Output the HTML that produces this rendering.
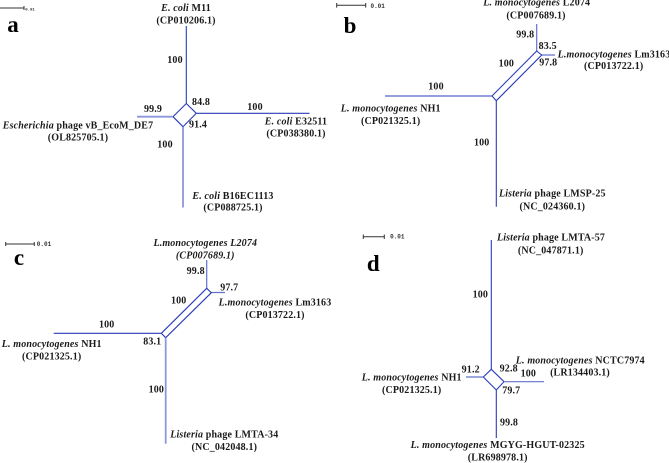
<!DOCTYPE html>
<html><head><meta charset="utf-8"><style>
html,body{margin:0;padding:0;background:#fff;width:669px;height:463px;overflow:hidden}
svg{display:block}
text{font-family:"Liberation Serif",serif;font-weight:bold;font-size:10px;letter-spacing:.15px;fill:#1a1a1a;text-anchor:middle}
.i{font-style:italic}
.p{font-size:23px;fill:#000;letter-spacing:0}
.s{font-size:6px;font-family:"Liberation Mono",monospace;fill:#333;letter-spacing:0}
.l{stroke:#2a3cb8;stroke-width:1.1;fill:none}
.m{stroke:#6272cc;stroke-width:1.2;fill:none}
.t{stroke:#8b98dc;stroke-width:1.8;fill:none}
.b{stroke:#333;stroke-width:1;fill:none}
</style></head><body>
<svg width="669" height="463" viewBox="0 0 669 463" xmlns="http://www.w3.org/2000/svg">
<!-- a -->
<path class="b" d="M0 8H24M24 6V10"/><text class="s" x="30" y="10.5" style="font-size:4px">0.01</text>
<text class="p" x="13" y="32">a</text>
<path class="l" d="M186.3 26V103.5M196.3 113.3H309.5M186.3 103.5L196.3 113.3L183 126.7L173 116.7Z"/>
<path class="t" d="M137 116.7H173M183 126.7V207.5"/>
<text x="186" y="11"><tspan class="i">E. coli</tspan> M11</text><text x="186" y="23.5">(CP010206.1)</text>
<text x="175" y="63">100</text><text x="201" y="105">84.8</text><text x="153" y="112">99.9</text><text x="255" y="110">100</text>
<text x="296" y="124.7"><tspan class="i">E. coli</tspan>  E32511</text><text x="296" y="136.7">(CP038380.1)</text>
<text x="78" y="128.7"><tspan class="i">Escherichia</tspan> phage vB_EcoM_DE7</text><text x="78" y="140.7">(OL825705.1)</text>
<text x="198" y="127.3">91.4</text><text x="165" y="147.7">100</text>
<text x="233" y="199"><tspan class="i">E. coli</tspan> B16EC1113</text><text x="233" y="210.7">(CP088725.1)</text>
<!-- b -->
<path class="b" d="M336.7 5.3H365.7M336.7 3V7.6M365.7 3V7.6"/><text class="s" x="377.7" y="8">0.01</text>
<text class="p" x="350" y="33">b</text>
<path class="m" d="M536.7 24V51M541.7 55H555"/>
<path class="l" d="M385 96H492M496.3 100.7V206.7M536.7 51L541.7 55L496.3 100.7L492 96Z"/>
<text x="536.7" y="5.7"><tspan class="i">L. monocytogenes</tspan> L2074</text><text x="536" y="18.7">(CP007689.1)</text>
<text x="525.3" y="37.3">99.8</text><text x="547.7" y="49">83.5</text><text x="548.3" y="65.3">97.8</text>
<text x="614" y="57.3"><tspan class="i">L.monocytogenes</tspan> Lm3163</text><text x="613.7" y="69">(CP013722.1)</text>
<text x="506.3" y="66.3">100</text><text x="436" y="89.3">100</text>
<text x="390.7" y="111.7"><tspan class="i">L. monocytogenes</tspan> NH1</text><text x="390.7" y="124">(CP021325.1)</text>
<text x="481.7" y="145.7">100</text>
<text x="552.3" y="196.7"><tspan class="i">Listeria</tspan> phage LMSP-25</text><text x="552.3" y="209.3">(NC_024360.1)</text>
<!-- c -->
<path class="b" d="M5.7 244H34.3M5.7 242V246M34.3 242V246"/><text class="s" x="44" y="246">0.01</text>
<text class="p" x="19" y="265">c</text>
<path class="m" d="M206.7 260V288.3M211.3 292.5H225"/>
<path class="l" d="M53.7 333.3H161.3M206.7 288.3L211.3 292.7L165.7 337.7L161.3 333.3Z"/>
<path class="t" d="M165.7 337.7V443.7"/>
<text x="205.3" y="246"><tspan class="i">L.monocytogenes L2074</tspan></text><text class="i" x="205.3" y="258.3">(CP007689.1)</text>
<text x="195.7" y="274">99.8</text><text x="229.3" y="290.7">97.7</text><text x="178.7" y="303.3">100</text>
<text x="275" y="305.7"><tspan class="i">L.monocytogenes</tspan> Lm3163</text><text x="275" y="318">(CP013722.1)</text>
<text x="106.7" y="327.3">100</text><text x="152.3" y="344.7">83.1</text>
<text x="51.7" y="347"><tspan class="i">L. monocytogenes</tspan> NH1</text><text x="51.7" y="359.3">(CP021325.1)</text>
<text x="156.3" y="392.7">100</text>
<text x="224.3" y="437.3"><tspan class="i">Listeria</tspan> phage LMTA-34</text><text x="224.3" y="450">(NC_042048.1)</text>
<!-- d -->
<path class="b" d="M363.3 236.7H384.3M363.3 234.5V239M384.3 234.5V239"/><text class="s" x="397.3" y="238.7">0.01</text>
<text class="p" x="373.3" y="271">d</text>
<path class="l" d="M491.3 240V369.3M496.3 390V438M491.3 369.3L504 381.7L496.3 390L483.3 377Z"/>
<path class="m" d="M504 381.7H544M466 377H483.3"/>
<text x="551" y="240.7"><tspan class="i">Listeria</tspan> phage LMTA-57</text><text x="550.7" y="253.3">(NC_047871.1)</text>
<text x="480.3" y="297.3">100</text>
<text x="580.3" y="363.3"><tspan class="i">L. monocytogenes</tspan> NCTC7974</text><text x="580" y="375.7">(LR134403.1)</text>
<text x="508.7" y="371.7">92.8</text><text x="528.3" y="376.3">100</text><text x="470.7" y="372.3">91.2</text>
<text x="411.7" y="380.3"><tspan class="i">L. monocytogenes</tspan> NH1</text><text x="411.7" y="393">(CP021325.1)</text>
<text x="511.3" y="393.3">79.7</text><text x="509" y="425.7">99.8</text>
<text x="497.7" y="448"><tspan class="i">L. monocytogenes</tspan> MGYG-HGUT-02325</text><text x="497.7" y="460.7">(LR698978.1)</text>
</svg>
</body></html>
